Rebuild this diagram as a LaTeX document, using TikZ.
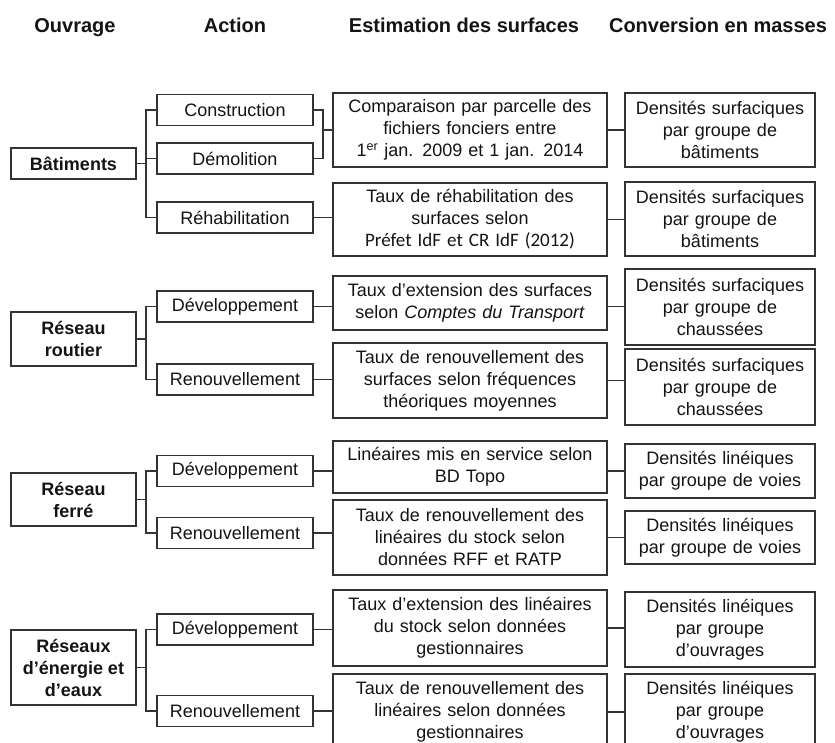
\documentclass[tikz,border=0pt]{standalone}
\usepackage{fontspec}
\setmainfont{Liberation Sans}
\newfontfamily\calib{Carlito}
\definecolor{linec}{HTML}{333333}
\definecolor{txtc}{HTML}{141414}
\begin{document}
\begin{tikzpicture}[x=1pt,y=-1pt,
  box/.style={draw=linec, line width=1.8pt, fill=white, inner sep=0pt, align=center, text=txtc, font=\fontsize{18}{22}\selectfont},
  ouv/.style={box, minimum width=125pt, font=\bfseries\fontsize{18}{22}\selectfont},
  act/.style={box, minimum width=156pt, minimum height=31pt},
  est/.style={box, minimum width=274pt, text width=270pt},
  conv/.style={box, minimum width=190pt, text width=186pt},
  head/.style={anchor=base, text=txtc, font=\bfseries\fontsize{20}{24}\selectfont},
  link/.style={draw=linec, line width=1.8pt}]
\useasboundingbox (0,0) rectangle (835,743);
\clip (0,0) rectangle (835,743);
\fill[white] (0,0) rectangle (835,743);

% headers
\node[head] (h1) at (75,32.5) {Ouvrage};
\node[head] (h2) at (235,32.5) {Action};
\node[head] (h3) at (464,32.5) {Estimation des surfaces};
\node[head] (h4) at (718,32.5) {Conversion en masses};

% Ouvrage
\node[ouv, minimum height=31pt] (b1) at (73.5,163.5) {Bâtiments};
\node[ouv, minimum height=54pt] (b2) at (73.5,339) {Réseau\\routier};
\node[ouv, minimum height=53pt] (b3) at (73.5,499.5) {Réseau\\ferré};
\node[ouv, minimum height=75pt] (b4) at (73.5,667.5) {Réseaux\\d’énergie et\\d’eaux};

% Action
\node[act] (a1) at (235,110) {Construction};
\node[act] (a2) at (235,158.5) {Démolition};
\node[act] (a3) at (235,217.5) {Réhabilitation};
\node[act] (a4) at (235,306.5) {Développement};
\node[act] (a5) at (235,379.5) {Renouvellement};
\node[act] (a6) at (235,471) {Développement};
\node[act] (a7) at (235,533) {Renouvellement};
\node[act] (a8) at (235,629.5) {Développement};
\node[act] (a9) at (235,711) {Renouvellement};

% Estimation
\node[est, minimum height=74pt] (e1) at (470,130) {Comparaison par parcelle des\\fichiers fonciers entre\\1\textsuperscript{er} jan. 2009 et 1 jan. 2014};
\node[est, minimum height=73pt] (e2) at (470,219.5) {Taux de réhabilitation des\\surfaces selon\\{\calib\fontsize{19}{22}\selectfont Préfet IdF et CR IdF (2012)}};
\node[est, minimum height=54pt] (e3) at (470,303) {Taux d’extension des surfaces\\selon \textit{Comptes du Transport}};
\node[est, minimum height=75pt] (e4) at (470,380.5) {Taux de renouvellement des\\surfaces selon fréquences\\théoriques moyennes};
\node[est, minimum height=52pt] (e5) at (470,467) {Linéaires mis en service selon\\BD Topo};
\node[est, minimum height=75pt] (e6) at (470,537.5) {Taux de renouvellement des\\linéaires du stock selon\\données RFF et RATP};
\node[est, minimum height=76pt] (e7) at (470,628) {Taux d’extension des linéaires\\du stock selon données\\gestionnaires};
\node[est, minimum height=76pt] (e8) at (470,712) {Taux de renouvellement des\\linéaires selon données\\gestionnaires};

% Conversion
\node[conv, minimum height=74pt] (c1) at (720,130) {Densités surfaciques\\par groupe de\\bâtiments};
\node[conv, minimum height=74pt] (c2) at (720,219) {Densités surfaciques\\par groupe de\\bâtiments};
\node[conv, minimum height=76pt] (c3) at (720,307) {Densités surfaciques\\par groupe de\\chaussées};
\node[conv, minimum height=76pt] (c4) at (720,387) {Densités surfaciques\\par groupe de\\chaussées};
\node[conv, minimum height=54pt] (c5) at (720,471) {Densités linéiques\\par groupe de voies};
\node[conv, minimum height=53pt] (c6) at (720,537.5) {Densités linéiques\\par groupe de voies};
\node[conv, minimum height=75pt] (c7) at (720,629.5) {Densités linéiques\\par groupe\\d’ouvrages};
\node[conv, minimum height=76pt] (c8) at (720,712) {Densités linéiques\\par groupe\\d’ouvrages};

% junction columns
\coordinate (k1) at (146,0);
\coordinate (k2) at (323,0);

% Bâtiments tree
\draw[link] (b1.east) -- (b1.east -| k1);
\draw[link] (a1.west) -- (a1.west -| k1) -- (a3.west -| k1) -- (a3.west);
\draw[link] (a2.west) -- (a2.west -| k1);
\draw[link] (a1.east) -- (a1.east -| k2) -- (a2.east -| k2) -- (a2.east);
\draw[link] (e1.west -| k2) -- (e1.west);
\draw[link] (a3.east) -- (a3.east -| e2.west);
\draw[link] (e1.east) -- (e1.east -| c1.west);
\draw[link] (e2.east) -- (e2.east -| c2.west);

% Réseau routier
\draw[link] (b2.east) -- (b2.east -| k1);
\draw[link] (a4.west) -- (a4.west -| k1) -- (a5.west -| k1) -- (a5.west);
\draw[link] (a4.east) -- (a4.east -| e3.west);
\draw[link] (a5.east) -- (a5.east -| e4.west);
\draw[link] (a4.east -| e3.east) -- (a4.east -| c3.west);
\draw[link] (e4.east) -- (e4.east -| c4.west);

% Réseau ferré
\draw[link] (b3.east) -- (b3.east -| k1);
\draw[link] (a6.west) -- (a6.west -| k1) -- (a7.west -| k1) -- (a7.west);
\draw[link] (a6.east) -- (a6.east -| e5.west);
\draw[link] (a7.east) -- (a7.east -| e6.west);
\draw[link] (c5.west -| e5.east) -- (c5.west);
\draw[link] (e6.east) -- (e6.east -| c6.west);

% Réseaux d'énergie
\draw[link] (b4.east) -- (b4.east -| k1);
\draw[link] (a8.west) -- (a8.west -| k1) -- (a9.west -| k1) -- (a9.west);
\draw[link] (a8.east) -- (a8.east -| e7.west);
\draw[link] (a9.east) -- (a9.east -| e8.west);
\draw[link] (e7.east) -- (e7.east -| c7.west);
\draw[link] (e8.east) -- (e8.east -| c8.west);
\end{tikzpicture}
\end{document}
